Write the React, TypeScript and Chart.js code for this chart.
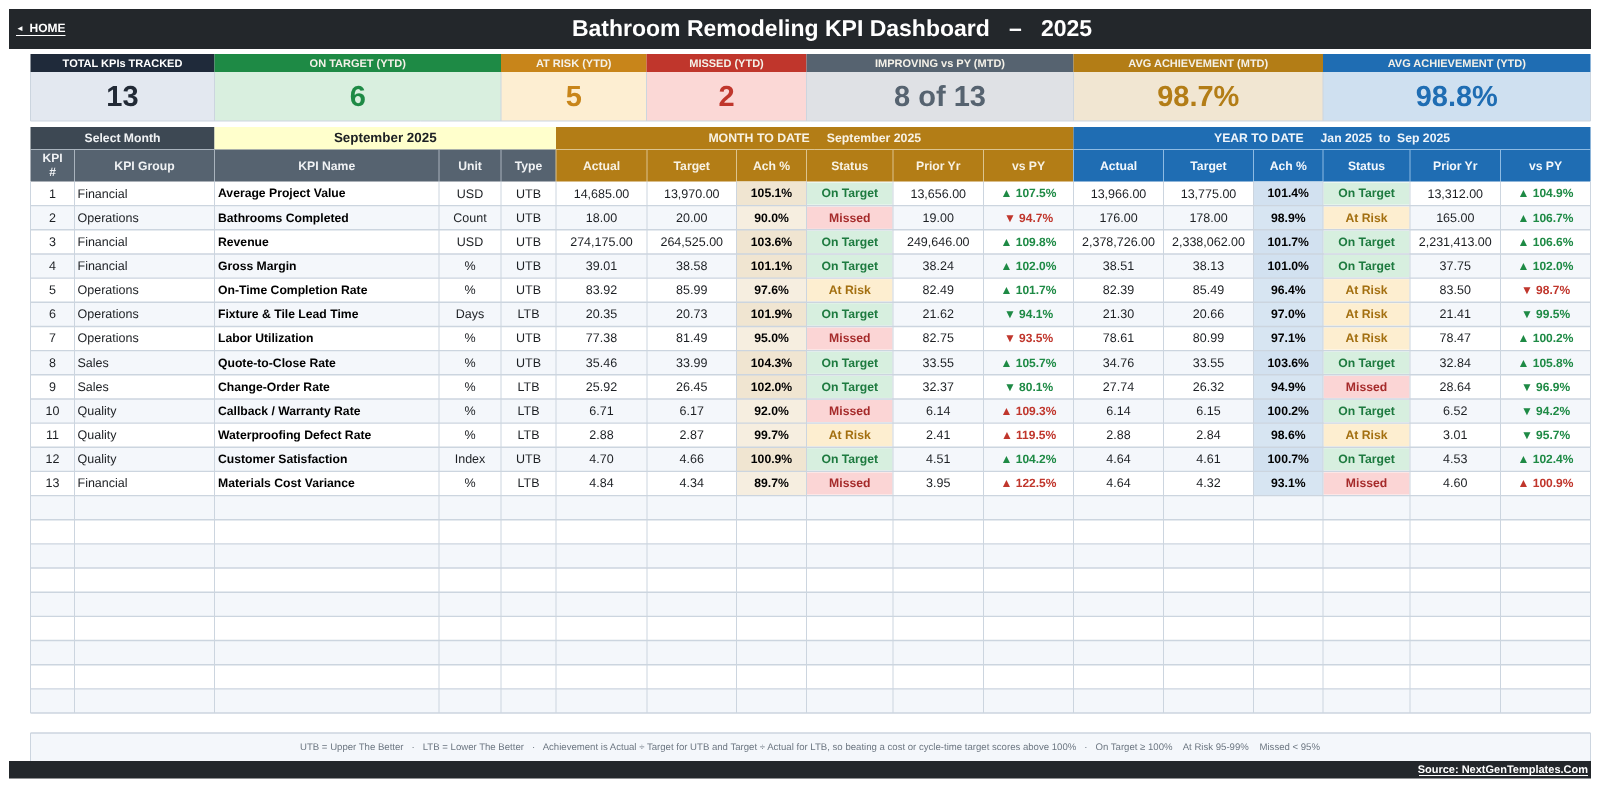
import React, { useEffect, useRef } from "react";
import Chart from "chart.js/auto";

// table data
const kpiGroups = ["Financial", "Operations", "Financial", "Financial", "Operations", "Operations", "Operations", "Sales", "Sales", "Quality", "Quality", "Quality", "Financial"];
const kpiNames = ["Average Project Value", "Bathrooms Completed", "Revenue", "Gross Margin", "On-Time Completion Rate", "Fixture & Tile Lead Time", "Labor Utilization", "Quote-to-Close Rate", "Change-Order Rate", "Callback / Warranty Rate", "Waterproofing Defect Rate", "Customer Satisfaction", "Materials Cost Variance"];
const kpiUnits = ["USD", "Count", "USD", "%", "%", "Days", "%", "%", "%", "%", "%", "Index", "%"];
const kpiTypes = ["UTB", "UTB", "UTB", "UTB", "UTB", "LTB", "UTB", "UTB", "LTB", "LTB", "LTB", "UTB", "LTB"];

const mtdActual = [14685, 18, 274175, 39.01, 83.92, 20.35, 77.38, 35.46, 25.92, 6.71, 2.88, 4.7, 4.84];
const mtdTarget = [13970, 20, 264525, 38.58, 85.99, 20.73, 81.49, 33.99, 26.45, 6.17, 2.87, 4.66, 4.34];
const mtdAch = [105.1, 90.0, 103.6, 101.1, 97.6, 101.9, 95.0, 104.3, 102.0, 92.0, 99.7, 100.9, 89.7];
const mtdStatus = ["On Target", "Missed", "On Target", "On Target", "At Risk", "On Target", "Missed", "On Target", "On Target", "Missed", "At Risk", "On Target", "Missed"];
const mtdPrior = [13656, 19, 249646, 38.24, 82.49, 21.62, 82.75, 33.55, 32.37, 6.14, 2.41, 4.51, 3.95];
const mtdVsPy = [107.5, 94.7, 109.8, 102.0, 101.7, 94.1, 93.5, 105.7, 80.1, 109.3, 119.5, 104.2, 122.5];

const ytdActual = [13966, 176, 2378726, 38.51, 82.39, 21.3, 78.61, 34.76, 27.74, 6.14, 2.88, 4.64, 4.64];
const ytdTarget = [13775, 178, 2338062, 38.13, 85.49, 20.66, 80.99, 33.55, 26.32, 6.15, 2.84, 4.61, 4.32];
const ytdAch = [101.4, 98.9, 101.7, 101.0, 96.4, 97.0, 97.1, 103.6, 94.9, 100.2, 98.6, 100.7, 93.1];
const ytdStatus = ["On Target", "At Risk", "On Target", "On Target", "At Risk", "At Risk", "At Risk", "On Target", "Missed", "On Target", "At Risk", "On Target", "Missed"];
const ytdPrior = [13312, 165, 2231413, 37.75, 83.5, 21.41, 78.47, 32.84, 28.64, 6.52, 3.01, 4.53, 4.6];
const ytdVsPy = [104.9, 106.7, 106.6, 102.0, 98.7, 99.5, 100.2, 105.8, 96.9, 94.2, 95.7, 102.4, 100.9];

const tileTitles = ["TOTAL KPIs TRACKED", "ON TARGET (YTD)", "AT RISK (YTD)", "MISSED (YTD)", "IMPROVING vs PY (MTD)", "AVG ACHIEVEMENT (MTD)", "AVG ACHIEVEMENT (YTD)"];
const tileValues = ["13", "6", "5", "2", "8 of 13", "98.7%", "98.8%"];
const infoHeaders = ["KPI Group", "KPI Name", "Unit", "Type"];
const periodHeaders = ["Actual", "Target", "Ach %", "Status", "Prior Yr", "vs PY"];

const titleText = "Bathroom Remodeling KPI Dashboard   \u2013   2025";
const monthText = "September 2025";
const mtdBanner = "MONTH TO DATE     September 2025";
const ytdBanner = "YEAR TO DATE     Jan 2025  to  Sep 2025";
const noteText = "UTB = Upper The Better   \u00b7   LTB = Lower The Better   \u00b7   Achievement is Actual \u00f7 Target for UTB and Target \u00f7 Actual for LTB, so beating a cost or cycle-time target scores above 100%   \u00b7   On Target \u2265 100%    At Risk 95-99%    Missed < 95%";

// layout, in page pixels (the two hidden axes run 0-1600 and 0-788)
const colEdges = [30.5, 74.5, 214.5, 439, 501, 556, 647, 736.5, 806.5, 893, 983.5, 1073.5, 1163.5, 1253.5, 1323, 1410, 1500.5, 1590.5];
const tileEdges = [30.5, 214.5, 501, 646.5, 806.5, 1073.5, 1323, 1590.5];
const PAGE_LEFT = 9;
const PAGE_RIGHT = 1591;
const BAR_TOP = 9;
const BAR_BOTTOM = 49;
const TILE_TOP = 54;
const TILE_MID = 72;
const TILE_BOTTOM = 121;
const BANNER_TOP = 127;
const BANNER_BOTTOM = 149.5;
const HEAD_BOTTOM = 181.5;
const ROW_H = 24.16;
const ROW_COUNT = 22;
const NOTE_TOP = 733;
const NOTE_BOTTOM = 761;
const FOOT_BOTTOM = 778.5;

const FONT = '"Liberation Sans", Arial, sans-serif';
const INK = "#1c1f23";
const DARK = "#23272b";
const SLATE = "#566370";
const GOLD = "#b37d16";
const BLUE = "#1f6db3";
const GREEN = "#1e8a45";
const AMBER = "#c8851a";
const RED = "#c0362c";
const GRID = "#ccd5df";
const ALT_ROW = "#f4f7fb";

const tileHeadColors = ["#1f2a3a", GREEN, AMBER, RED, SLATE, GOLD, BLUE];
const tileBackColors = ["#e3e8f0", "#d9efdf", "#fdeed2", "#fbd8d6", "#dfe1e5", "#f1e6d2", "#cfe0f0"];
const tileTextColors = ["#222a36", GREEN, AMBER, RED, SLATE, GOLD, BLUE];
const statusBack: Record<string, string> = { "On Target": "#d7efdf", "At Risk": "#fdeed0", Missed: "#fbd5d5" };
const statusInk: Record<string, string> = { "On Target": "#1d7a3f", "At Risk": "#a36f10", Missed: "#a52a2a" };

const rowCenter = (i: number) => HEAD_BOTTOM + ROW_H * (i + 0.5);
const colCenter = (c: number) => (colEdges[c] + colEdges[c + 1]) / 2;
const money = (v: number) => v.toLocaleString("en-US", { minimumFractionDigits: 2, maximumFractionDigits: 2 });
const pct = (v: number) => v.toFixed(1) + "%";
const arrow = (v: number) => (v >= 100 ? "\u25B2 " : "\u25BC ") + pct(v);
const vsColors = (vals: number[]) => vals.map((v, i) => ((kpiTypes[i] === "UTB") === v >= 100 ? GREEN : RED));

// one dataset per table column, the points only carry the label positions
const column = (label: string, x: number, texts: string[], font: string, colors: string | string[] = INK, align = "center") => ({
  label,
  data: texts.map((_, i) => ({ x, y: rowCenter(i) })),
  texts,
  textFont: font,
  colors,
  align,
  pointRadius: 0,
  showLine: false,
});

const BODY = `12.5px ${FONT}`;
const BOLD = `bold 12.2px ${FONT}`;
const VS = `bold 12px ${FONT}`;

const datasets = [
  column("KPI #", colCenter(0), kpiNames.map((_, i) => String(i + 1)), BODY),
  column("KPI Group", colEdges[1] + 3, kpiGroups, BODY, INK, "left"),
  column("KPI Name", colEdges[2] + 3.5, kpiNames, BOLD, "#000000", "left"),
  column("Unit", colCenter(3), kpiUnits, BODY),
  column("Type", colCenter(4), kpiTypes, BODY),
  column("MTD Actual", colCenter(5), mtdActual.map(money), BODY),
  column("MTD Target", colCenter(6), mtdTarget.map(money), BODY),
  column("MTD Ach", colCenter(7), mtdAch.map(pct), BOLD, "#000000"),
  column("MTD Status", colCenter(8), mtdStatus, BOLD, mtdStatus.map((s) => statusInk[s])),
  column("MTD Prior", colCenter(9), mtdPrior.map(money), BODY),
  column("MTD vs PY", colCenter(10), mtdVsPy.map(arrow), VS, vsColors(mtdVsPy)),
  column("YTD Actual", colCenter(11), ytdActual.map(money), BODY),
  column("YTD Target", colCenter(12), ytdTarget.map(money), BODY),
  column("YTD Ach", colCenter(13), ytdAch.map(pct), BOLD, "#000000"),
  column("YTD Status", colCenter(14), ytdStatus, BOLD, ytdStatus.map((s) => statusInk[s])),
  column("YTD Prior", colCenter(15), ytdPrior.map(money), BODY),
  column("YTD vs PY", colCenter(16), ytdVsPy.map(arrow), VS, vsColors(ytdVsPy)),
];

const dashboardPlugin = {
  id: "dashboard",
  beforeDatasetsDraw(chart: any) {
    const { ctx, scales } = chart;
    const px = (v: number) => scales.x.getPixelForValue(v);
    const py = (v: number) => scales.y.getPixelForValue(v);
    const box = (x0: number, y0: number, x1: number, y1: number, fill: string) => {
      ctx.fillStyle = fill;
      ctx.fillRect(px(x0), py(y0), px(x1) - px(x0), py(y1) - py(y0));
    };
    const vline = (x: number, y0: number, y1: number, color: string, w = 1) => {
      ctx.strokeStyle = color;
      ctx.lineWidth = w;
      ctx.beginPath();
      ctx.moveTo(px(x), py(y0));
      ctx.lineTo(px(x), py(y1));
      ctx.stroke();
    };
    const hline = (y: number, x0: number, x1: number, color: string, w = 1) => {
      ctx.strokeStyle = color;
      ctx.lineWidth = w;
      ctx.beginPath();
      ctx.moveTo(px(x0), py(y));
      ctx.lineTo(px(x1), py(y));
      ctx.stroke();
    };
    const label = (text: string, x: number, y: number, font: string, color: string, align = "center") => {
      ctx.font = font;
      ctx.fillStyle = color;
      ctx.textAlign = align;
      ctx.textBaseline = "middle";
      ctx.fillText(text, px(x), py(y));
    };

    ctx.save();
    // no hinting, so the fractional font sizes keep their real widths
    ctx.textRendering = "geometricPrecision";

    // title bar
    box(PAGE_LEFT, BAR_TOP, PAGE_RIGHT, BAR_BOTTOM, DARK);
    label(titleText, 832, 29.5, `bold 23px ${FONT}`, "#ffffff");
    label("\u25C4", 16, 29, `bold 8px ${FONT}`, "#ffffff", "left");
    label("HOME", 29.5, 29, `bold 12px ${FONT}`, "#ffffff", "left");
    hline(35.5, 16, 65.5, "#ffffff");

    // KPI tiles
    tileTitles.forEach((title, i) => {
      const x0 = tileEdges[i];
      const x1 = tileEdges[i + 1];
      box(x0, TILE_TOP, x1, TILE_MID, tileHeadColors[i]);
      box(x0, TILE_MID, x1, TILE_BOTTOM, tileBackColors[i]);
      label(title, (x0 + x1) / 2, (TILE_TOP + TILE_MID) / 2 + 0.5, `bold 11px ${FONT}`, i === 0 ? "#ffffff" : "#f4f1e8");
      label(tileValues[i], (x0 + x1) / 2, (TILE_MID + TILE_BOTTOM) / 2 + 1, `bold 29px ${FONT}`, tileTextColors[i]);
      if (i > 0) vline(x0, TILE_MID, TILE_BOTTOM, GRID);
    });
    hline(TILE_BOTTOM, tileEdges[0], tileEdges[7], GRID);
    vline(tileEdges[0], TILE_MID, TILE_BOTTOM, GRID);
    vline(tileEdges[7], TILE_MID, TILE_BOTTOM, GRID);

    // banners
    box(colEdges[0], BANNER_TOP, colEdges[2], BANNER_BOTTOM, "#3d4853");
    box(colEdges[2], BANNER_TOP, colEdges[5], BANNER_BOTTOM, "#ffffcc");
    box(colEdges[5], BANNER_TOP, colEdges[11], BANNER_BOTTOM, GOLD);
    box(colEdges[11], BANNER_TOP, colEdges[17], BANNER_BOTTOM, BLUE);
    const bannerY = (BANNER_TOP + BANNER_BOTTOM) / 2 + 0.5;
    label("Select Month", (colEdges[0] + colEdges[2]) / 2, bannerY, `bold 12.2px ${FONT}`, "#f0f2f4");
    label(monthText, (colEdges[2] + colEdges[5]) / 2, bannerY, `bold 13.4px ${FONT}`, INK);
    label(mtdBanner, (colEdges[5] + colEdges[11]) / 2, bannerY, `bold 12.3px ${FONT}`, "#f8f2e4");
    label(ytdBanner, (colEdges[11] + colEdges[17]) / 2, bannerY, `bold 12.2px ${FONT}`, "#eef4fa");

    // column headers
    const headMid = (BANNER_BOTTOM + HEAD_BOTTOM) / 2 + 1;
    const headFont = `bold 12.2px ${FONT}`;
    for (let c = 0; c < 17; c++) {
      const back = c < 5 ? SLATE : c < 11 ? GOLD : BLUE;
      box(colEdges[c], BANNER_BOTTOM, colEdges[c + 1], HEAD_BOTTOM, back);
      if (c > 0) vline(colEdges[c], BANNER_BOTTOM, HEAD_BOTTOM, c < 5 ? "#a9b3bd" : c < 11 ? "#dcc48f" : "#8dbbe3");
    }
    hline(BANNER_BOTTOM, colEdges[0], colEdges[2], "#a9b3bd");
    hline(BANNER_BOTTOM, colEdges[5], colEdges[11], "#dcc48f");
    hline(BANNER_BOTTOM, colEdges[11], colEdges[17], "#8dbbe3");
    label("KPI", colCenter(0), headMid - 7.5, `bold 12px ${FONT}`, "#f0f2f4");
    label("#", colCenter(0), headMid + 6.5, `bold 12px ${FONT}`, "#f0f2f4");
    infoHeaders.forEach((h, i) => label(h, colCenter(i + 1), headMid, headFont, "#f0f2f4"));
    periodHeaders.forEach((h, i) => {
      label(h, colCenter(i + 5), headMid, headFont, "#f8f2e4");
      label(h, colCenter(i + 11), headMid, headFont, "#f2f7fc");
    });

    // body rows
    for (let r = 0; r < ROW_COUNT; r++) {
      const y0 = HEAD_BOTTOM + ROW_H * r;
      const y1 = y0 + ROW_H;
      if (r % 2 === 1) box(colEdges[0], y0, colEdges[17], y1, ALT_ROW);
      if (r < mtdAch.length) {
        box(colEdges[7], y0, colEdges[8], y1, mtdAch[r] >= 100 ? "#f0e5d1" : "#f6eee0");
        box(colEdges[13], y0, colEdges[14], y1, ytdAch[r] >= 100 ? "#d2e1f0" : "#d7e5f2");
        box(colEdges[8] + 0.5, y0 + 1, colEdges[9] - 0.5, y1 - 1, statusBack[mtdStatus[r]]);
        box(colEdges[14] + 0.5, y0 + 1, colEdges[15] - 0.5, y1 - 1, statusBack[ytdStatus[r]]);
      }
    }
    const tableBottom = HEAD_BOTTOM + ROW_H * ROW_COUNT;
    colEdges.forEach((x) => vline(x, HEAD_BOTTOM, tableBottom, GRID));
    for (let r = 1; r <= ROW_COUNT; r++) {
      hline(HEAD_BOTTOM + ROW_H * r, colEdges[0], colEdges[17], GRID, 1.4);
    }

    // note box and footer
    box(colEdges[0], NOTE_TOP, colEdges[17], NOTE_BOTTOM, ALT_ROW);
    hline(NOTE_TOP, colEdges[0], colEdges[17], GRID, 1.4);
    vline(colEdges[0], NOTE_TOP, NOTE_BOTTOM, GRID);
    vline(colEdges[17], NOTE_TOP, NOTE_BOTTOM, GRID);
    label(noteText, 810, (NOTE_TOP + NOTE_BOTTOM) / 2, `9.6px ${FONT}`, "#6d7782");
    box(PAGE_LEFT, NOTE_BOTTOM, PAGE_RIGHT, FOOT_BOTTOM, DARK);
    label("Source: NextGenTemplates.Com", 1588, 770, `bold 11px ${FONT}`, "#ffffff", "right");
    hline(775.5, 1419, 1588, "#ffffff");

    ctx.restore();
  },
  afterDatasetsDraw(chart: any) {
    const { ctx } = chart;
    ctx.save();
    ctx.textRendering = "geometricPrecision";
    ctx.textBaseline = "middle";
    chart.data.datasets.forEach((ds: any, d: number) => {
      const points = chart.getDatasetMeta(d).data;
      ctx.font = ds.textFont;
      ctx.textAlign = ds.align;
      ds.texts.forEach((text: string, i: number) => {
        ctx.fillStyle = Array.isArray(ds.colors) ? ds.colors[i] : ds.colors;
        ctx.fillText(text, points[i].x, points[i].y + 0.5);
      });
    });
    ctx.restore();
  },
};

const App: React.FC = () => {
  const canvasRef = useRef<HTMLCanvasElement | null>(null);

  useEffect(() => {
    document.body.style.margin = "0";
    if (!canvasRef.current) return;

    const chart = new Chart(canvasRef.current, {
      type: "scatter",
      data: { datasets: datasets as any },
      options: {
        animation: false,
        responsive: false,
        devicePixelRatio: 1,
        layout: { padding: 0 },
        plugins: { legend: { display: false }, tooltip: { enabled: false } },
        scales: {
          x: { type: "linear", min: 0, max: 1600, display: false },
          y: { type: "linear", min: 0, max: 788, reverse: true, display: false },
        },
      },
      plugins: [dashboardPlugin as any],
    });

    return () => chart.destroy();
  }, []);

  return <canvas ref={canvasRef} width={1600} height={788} style={{ display: "block" }} />;
};

export default App;
